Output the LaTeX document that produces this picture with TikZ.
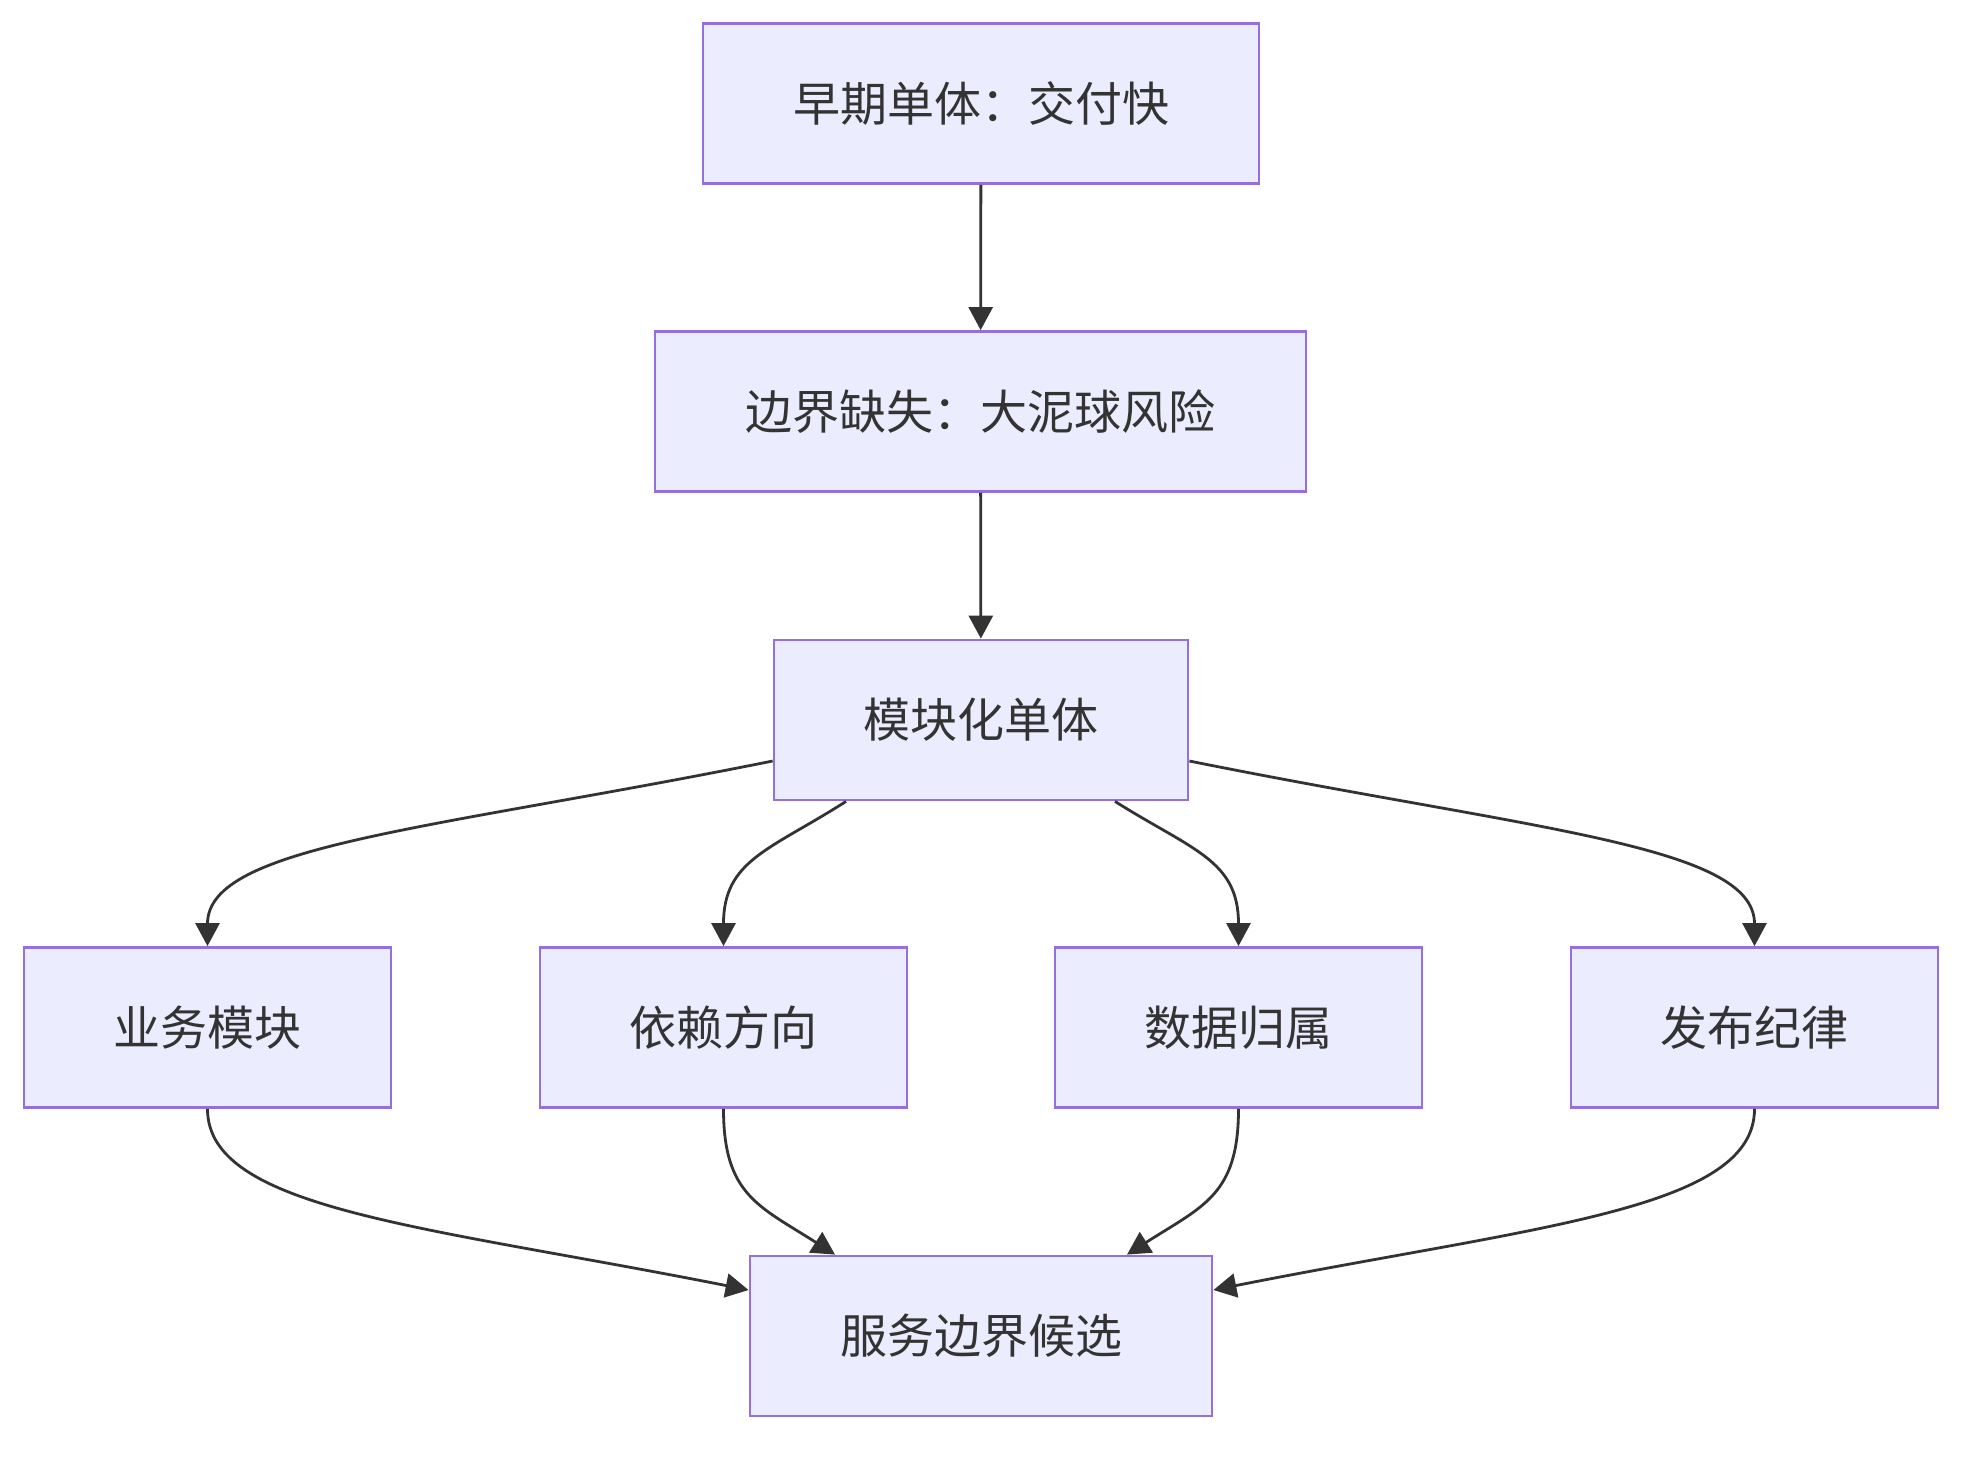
\documentclass[tikz,border=0pt]{standalone}
\usepackage{fontspec}
\setmainfont{Noto Sans CJK SC}
\usepackage{xcolor}
\usepackage{tikz}
\usetikzlibrary{arrows.meta, positioning}

\definecolor{boxfill}{HTML}{ECECFF}
\definecolor{boxline}{HTML}{9370DB}
\definecolor{inkgray}{HTML}{333333}

\begin{document}
\begin{tikzpicture}[x=0.5pt, y=-0.5pt,
    box/.style={draw=boxline, fill=boxfill, line width=1.4pt, minimum height=80pt,
        inner sep=0pt, text=inkgray, font=\fontsize{23.5}{28}\selectfont},
    flow/.style={draw=inkgray, line width=1.4pt, -{Triangle[length=11.5pt, width=12pt]}}]
\useasboundingbox (0,0) rectangle (1986,1458);

% main column
\node[box, minimum width=278pt]   (early) at (981,103.5)  {早期单体：交付快};
\node[box, minimum width=325.5pt] (mud)   at (980.5,411.5) {边界缺失：大泥球风险};
\node[box, minimum width=207pt]   (mod)   at (981,720)    {模块化单体};

% the four concerns
\node[box, minimum width=183.5pt] (biz)  at (207.5,1027.5)  {业务模块};
\node[box, minimum width=183.5pt] (dep)  at (723.5,1027.5)  {依赖方向};
\node[box, minimum width=183.5pt] (data) at (1238.5,1027.5) {数据归属};
\node[box, minimum width=183.5pt] (rel)  at (1754.5,1027.5) {发布纪律};

\node[box, minimum width=231pt]   (cand) at (981,1336) {服务边界候选};

\draw[flow] (early) -- (mud);
\draw[flow] (mud) -- (mod);

\draw[flow] ([yshift=-20.5pt]mod.west) .. controls (430,830) and (207.5,845) .. (biz.north);
\draw[flow] ([xshift=-67.5pt]mod.south) .. controls (770,850) and (723.5,860) .. (dep.north);
\draw[flow] ([xshift=67pt]mod.south) .. controls (1192,850) and (1238.5,860) .. (data.north);
\draw[flow] ([yshift=-20.5pt]mod.east) .. controls (1532,830) and (1754.5,845) .. (rel.north);

\draw[flow] (biz.south) .. controls (207.5,1210) and (426,1226) .. ([yshift=23pt]cand.west);
\draw[flow] (dep.south) .. controls (723.5,1195) and (759,1206) .. ([xshift=-73pt]cand.north);
\draw[flow] (data.south) .. controls (1238.5,1195) and (1203,1206) .. ([xshift=73pt]cand.north);
\draw[flow] (rel.south) .. controls (1754.5,1210) and (1536,1226) .. ([yshift=23pt]cand.east);
\end{tikzpicture}
\end{document}
